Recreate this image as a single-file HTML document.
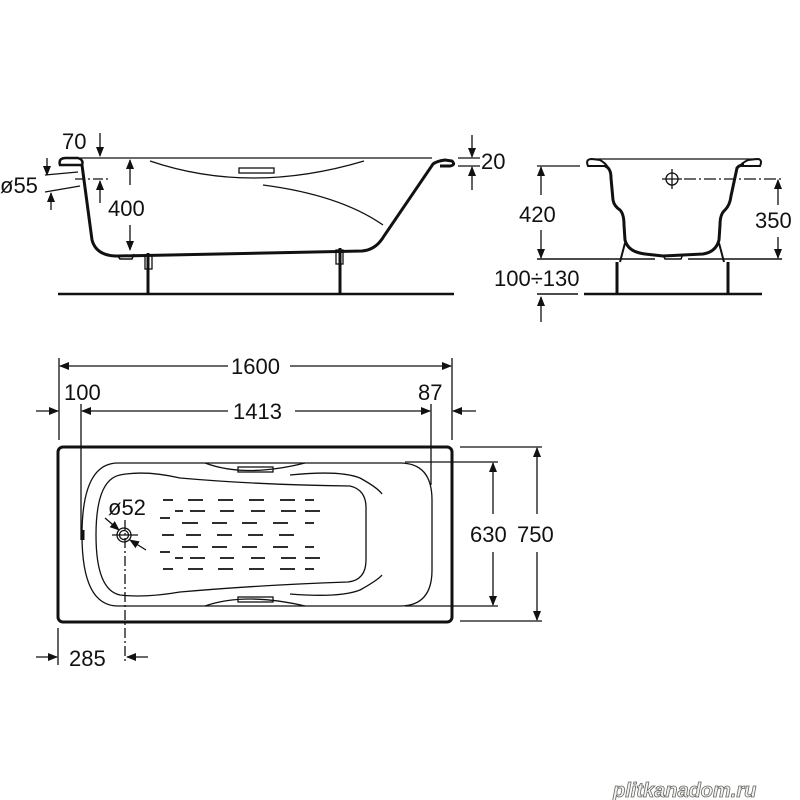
<!DOCTYPE html>
<html><head><meta charset="utf-8"><style>
html,body{margin:0;padding:0;background:#fff;}
svg{display:block}
text{font-family:"Liberation Sans",sans-serif;fill:#111;font-size:22px}
</style></head><body>
<svg width="800" height="800" viewBox="0 0 800 800" xmlns="http://www.w3.org/2000/svg">
<defs>
<marker id="a" markerWidth="10" markerHeight="8" refX="9" refY="4" orient="auto" markerUnits="userSpaceOnUse"><path d="M0,0 L10,4 L0,8 Z" fill="#111"/></marker>
</defs>
<g stroke="#111" fill="none" stroke-width="1.3">
<!-- SIDE VIEW -->
<line x1="80" y1="158" x2="432" y2="158"/>
<path d="M60,165 Q58,158 66,158 L78,158 Q84,160 82,165 Z" stroke-width="2.5"/>
<path d="M82,165 L92,240 Q96,255 115,256 L118,256 L362,251 Q376,250 384,236 L433,164 Q437,161 445,160 L452,161 Q456,165 450,166 L440,166" stroke-width="3"/>
<path d="M150,161 Q250,195 364,161"/>
<rect x="239" y="168" width="35" height="5"/>
<path d="M263,185 Q340,195 383,225"/>
<path d="M117,255 L120,259 L132,259 L134,254" stroke-width="1.5"/>
<line x1="148" y1="253" x2="148" y2="294" stroke-width="3"/>
<line x1="340" y1="248" x2="340" y2="294" stroke-width="3"/>
<rect x="145" y="255" width="7" height="14"/>
<rect x="336" y="250" width="7" height="14"/>
<line x1="58" y1="294" x2="454" y2="294" stroke-width="2.5"/>
<!-- 70 -->
<line x1="100" y1="133" x2="100" y2="156" marker-end="url(#a)"/>
<!-- 400 -->
<line x1="130" y1="185" x2="130" y2="160" marker-end="url(#a)"/>
<line x1="130" y1="225" x2="130" y2="250" marker-end="url(#a)"/>
<!-- ø55 -->
<line x1="45" y1="175" x2="78" y2="172"/>
<line x1="45" y1="192" x2="80" y2="186"/>
<line x1="47" y1="158" x2="47" y2="175" marker-end="url(#a)"/>
<line x1="51" y1="210" x2="51" y2="193" marker-end="url(#a)"/>
<line x1="75" y1="179" x2="110" y2="179" stroke-dasharray="10,3,2,3"/>
<line x1="100" y1="203" x2="100" y2="181" marker-end="url(#a)"/>
<!-- 20 -->
<line x1="458" y1="158" x2="480" y2="158"/>
<line x1="458" y1="166" x2="480" y2="166"/>
<line x1="472" y1="135" x2="472" y2="157" marker-end="url(#a)"/>
<line x1="472" y1="190" x2="472" y2="167" marker-end="url(#a)"/>

<!-- END VIEW -->
<line x1="592" y1="159" x2="760" y2="159"/>
<path d="M588,166 Q585,159 592,159 L600,160 Q605,163 607,166 Z" stroke-width="2"/>
<path d="M760,166 Q763,159 757,159 L748,160 Q742,163 740,166 Z" stroke-width="2"/>
<path d="M605,166 Q611,168 611,178 L613,200 Q614,206 620,210 Q624,214 624,225 L625,240 Q628,252 645,254 L663,256 L703,254 Q716,252 719,240 L720,225 Q720,214 725,210 Q730,205 731,196 L737,168 Q739,165 744,165" stroke-width="3"/>
<path d="M663,255 L665,259 L681,259 L683,254" stroke-width="1.5"/>
<circle cx="672" cy="179" r="6"/>
<line x1="662" y1="179" x2="682" y2="179"/>
<line x1="672" y1="169" x2="672" y2="189"/>
<line x1="684" y1="179" x2="782" y2="179" stroke-dasharray="12,3,2,3"/>
<line x1="537" y1="166" x2="580" y2="166"/>
<line x1="537" y1="259" x2="655" y2="259" stroke-width="1.6"/>
<line x1="688" y1="259" x2="782" y2="259" stroke-width="1.6"/>
<line x1="541" y1="195" x2="541" y2="167" marker-end="url(#a)"/>
<line x1="541" y1="230" x2="541" y2="258" marker-end="url(#a)"/>
<line x1="778" y1="205" x2="778" y2="180" marker-end="url(#a)"/>
<line x1="778" y1="237" x2="778" y2="258" marker-end="url(#a)"/>
<path d="M625,243 L620,262" stroke-width="2"/>
<path d="M719,243 L724,262" stroke-width="2"/>
<line x1="617" y1="262" x2="617" y2="294" stroke-width="3"/>
<line x1="728" y1="262" x2="728" y2="294" stroke-width="3"/>
<line x1="584" y1="294" x2="762" y2="294" stroke-width="2.5"/>
<line x1="537" y1="294" x2="578" y2="294" stroke-width="1.6"/>
<line x1="541" y1="322" x2="541" y2="297" marker-end="url(#a)"/>

<!-- PLAN -->
<rect x="58" y="447" width="394" height="175" rx="5" stroke-width="3"/>
<path d="M118,463 L400,463 Q432,463 432,500 L432,570 Q432,606 400,606 L118,606 Q82,606 82,535 Q82,463 118,463 Z"/>
<path d="M120,475 Q145,470 180,478 Q260,485 350,486 Q367,490 366,510 L366,560 Q366,580 348,582 Q260,585 180,592 Q145,598 120,595 Q96,590 96,535 Q96,480 120,475 Z"/>
<path d="M205,463 Q245,478 305,463"/>
<rect x="238" y="467" width="35" height="5"/>
<path d="M205,606 Q245,592 305,606"/>
<rect x="238" y="597" width="35" height="5"/>
<path d="M290,475 Q340,470 360,478 Q378,488 382,494"/>
<path d="M290,594 Q340,598 360,590 Q378,580 382,575"/>
<g stroke-width="1.8">
<path d="M163,500h10M188,500h15M218,500h15M249,500h15M280,500h15M305,500h9"/>
<path d="M175,511h8M190,511h15M220,511h14M251,511h14M281,511h15M305,511h15M160,518h10"/>
<path d="M182,523h16M212,523h15M242,523h15M273,523h15M305,523h9"/>
<path d="M162,535h12M186,535h15M217,535h15M248,535h15M279,535h15"/>
<path d="M182,547h16M212,547h15M242,547h15M273,547h15M305,547h9M160,552h10"/>
<path d="M175,558h8M190,558h15M220,558h14M251,558h14M281,558h15M305,558h15"/>
<path d="M163,569h10M188,569h15M218,569h15M249,569h15M280,569h15M305,569h9"/>
</g>
<circle cx="124" cy="535" r="7"/>
<circle cx="124" cy="535" r="4.5"/>
<line x1="112" y1="535" x2="138" y2="535"/>
<line x1="105" y1="518" x2="119" y2="530" marker-end="url(#a)"/>
<line x1="146" y1="550" x2="130" y2="540" marker-end="url(#a)"/>
<line x1="125" y1="520" x2="125" y2="662" stroke-dasharray="10,3,2,3"/>
<line x1="83" y1="530" x2="83" y2="540" stroke-width="3"/>
<!-- 1600 / 1413 -->
<line x1="59" y1="358" x2="59" y2="440"/>
<line x1="452" y1="358" x2="452" y2="440"/>
<line x1="81" y1="404" x2="81" y2="540"/>
<line x1="431" y1="404" x2="431" y2="485"/>
<line x1="228" y1="366" x2="60" y2="366" marker-end="url(#a)"/>
<line x1="290" y1="366" x2="451" y2="366" marker-end="url(#a)"/>
<line x1="228" y1="411" x2="82" y2="411" marker-end="url(#a)"/>
<line x1="295" y1="411" x2="430" y2="411" marker-end="url(#a)"/>
<line x1="36" y1="411" x2="58" y2="411" marker-end="url(#a)"/>
<line x1="476" y1="411" x2="453" y2="411" marker-end="url(#a)"/>
<!-- 630/750 -->
<line x1="405" y1="462" x2="498" y2="462"/>
<line x1="405" y1="606" x2="498" y2="606"/>
<line x1="460" y1="447" x2="542" y2="447"/>
<line x1="460" y1="621" x2="542" y2="621"/>
<line x1="493" y1="514" x2="493" y2="463" marker-end="url(#a)"/>
<line x1="493" y1="552" x2="493" y2="605" marker-end="url(#a)"/>
<line x1="537" y1="514" x2="537" y2="448" marker-end="url(#a)"/>
<line x1="537" y1="552" x2="537" y2="620" marker-end="url(#a)"/>
<!-- 285 -->
<line x1="58" y1="628" x2="58" y2="665"/>
<line x1="36" y1="657" x2="57" y2="657" marker-end="url(#a)"/>
<line x1="148" y1="657" x2="127" y2="657" marker-end="url(#a)"/>
</g>
<text x="62" y="149">70</text>
<text x="0" y="193">ø55</text>
<text x="108" y="216">400</text>
<text x="481" y="169">20</text>
<text x="519" y="222">420</text>
<text x="755" y="228">350</text>
<text x="494" y="286">100÷130</text>
<text x="231" y="374">1600</text>
<text x="64" y="400">100</text>
<text x="418" y="400">87</text>
<text x="233" y="419">1413</text>
<text x="108" y="515">ø52</text>
<text x="470" y="542">630</text>
<text x="517" y="542">750</text>
<text x="69" y="666">285</text>
<text x="613" y="797" style="font-size:20px;font-style:italic;font-weight:bold;fill:#f4f4ee;stroke:#666;stroke-width:0.8">plitkanadom.ru</text>
</svg>
</body></html>
